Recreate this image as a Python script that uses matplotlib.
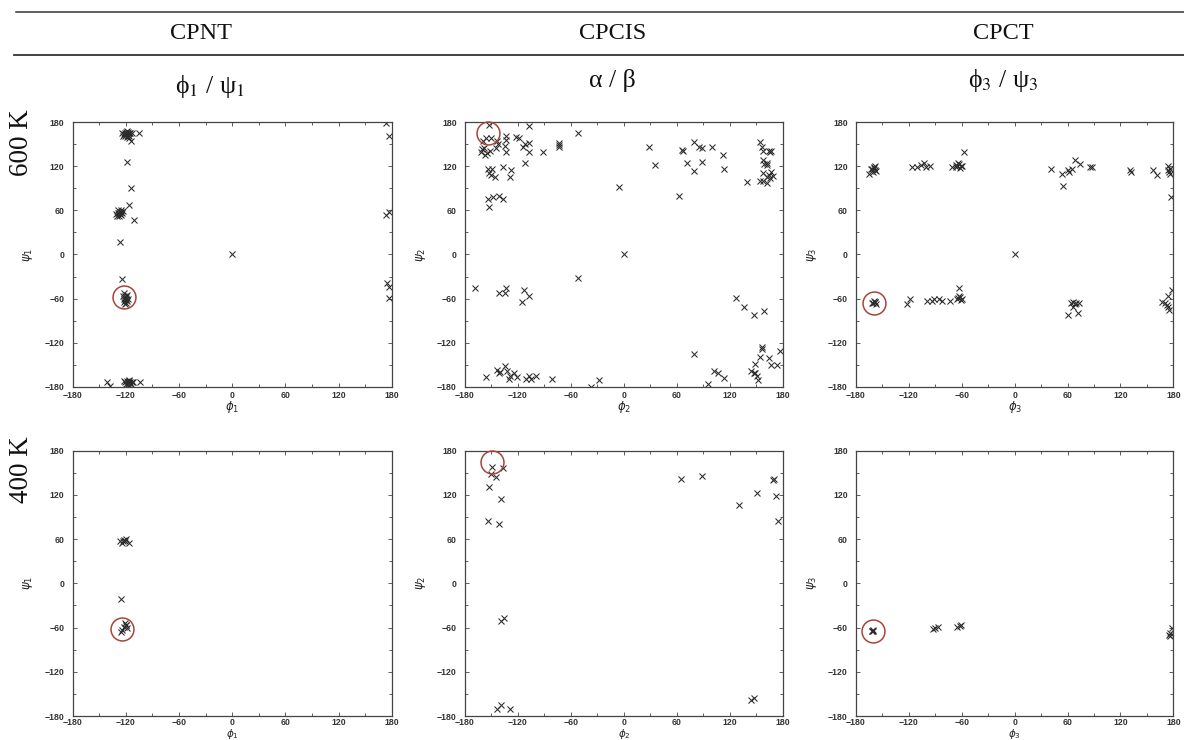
import matplotlib
matplotlib.use("Agg")
import matplotlib.pyplot as plt
from matplotlib.lines import Line2D

# ---------------- data ----------------
col_headers = ["CPNT", "CPCIS", "CPCT"]
sub_headers = ["\u03d5$_1$ / \u03c8$_1$", "\u03b1 / \u03b2", "\u03d5$_3$ / \u03c8$_3$"]
row_labels = ["600 K", "400 K"]
x_labels = [r"$\phi_1$", r"$\phi_2$", r"$\phi_3$"]
y_labels = [r"$\psi_1$", r"$\psi_2$", r"$\psi_3$"]
tick_values = [-180, -120, -60, 0, 60, 120, 180]

# 600 K, phi1/psi1
t1_x = [-124, -122, -120, -118, -117, -121, -119, -116, -123, -120, -118, -115, -113, -121, -119,
        -105, -114, -116, -119, -114, -116,
        -131, -129, -127, -125, -128, -126, -124, -130, -127, -125, -129, -123, -128,
        -111, -127, -124,
        -122, -121, -120, -122, -121, -119, -122, -120, -118, -123, -121, -120, -119,
        -121, -119, -117, -115, -118, -116, -120, -114, -117, -119, -113, -122, -112,
        -104, -141, -138, 0,
        174, 177, 174, 177, 175, 177, 177]
t1_y = [166, 164, 167, 163, 166, 161, 168, 162, 162, 164, 167, 165, 166, 166, 160,
        165, 155, 158, 126, 90, 68,
        55, 57, 55, 58, 53, 60, 56, 52, 58, 54, 60, 59, 56,
        47, 17, -34,
        -52, -56, -58, -60, -62, -63, -65, -66, -60, -57, -68, -61, -55,
        -174, -172, -175, -173, -177, -171, -176, -176, -172, -178, -174, -172, -173,
        -174, -173, -179, 0,
        179, 161, 54, 58, -39, -44, -59]

# 600 K, alpha/beta
t2_x = [-153, -160, -151, -156, -162, -157, -161, -158, -155, -152,
        -143, -145, -144, -133, -134, -135, -133, -122, -119, -114, -112,
        -108, -107, -107, -92, -73, -73, -74, -52, -112,
        -154, -149, -146, -153, -150, -137, -128, -129,
        -154, -148, -153, -141, -137,
        -169, -142, -135, -133, -113, -108, -115, -52, 0, -5,
        -156, -144, -142, -140, -135, -132, -129, -130, -124, -121, -111, -107, -105, -99, -81, -28, -37,
        29, 35, 63, 66, 67, 71, 79, 79, 85, 89, 88, 100, 112, 113, 140,
        154, 156, 158, 158, 162, 165, 166, 167, 159, 162, 158, 162, 165, 167, 169, 158, 162, 166, 154,
        127, 136, 147, 159, 79, 156, 157, 154, 149, 165, 167, 174, 177,
        144, 147, 149, 151, 152, 102, 107, 113, 95]
t2_y = [176, 154, 159, 159, 140, 136, 143, 145, 138, 141,
        150, 145, 154, 162, 156, 148, 140, 160, 158, 147, 150,
        175, 152, 140, 139, 152, 149, 147, 165, 125,
        116, 117, 106, 111, 108, 119, 115, 105,
        76, 78, 65, 80, 75,
        -46, -53, -52, -45, -49, -56, -65, -32, 0, 92,
        -167, -157, -162, -160, -152, -159, -165, -169, -162, -167, -169, -165, -169, -165, -170, -171, -180,
        146, 122, 79, 142, 141, 125, 153, 114, 146, 145, 126, 146, 136, 116, 99,
        153, 147, 141, 128, 125, 141, 140, 141, 123, 122, 111, 106, 108, 112, 107, 100, 98, 104, 100,
        -59, -71, -83, -77, -136, -126, -128, -139, -149, -141, -150, -150, -131,
        -158, -162, -162, -166, -171, -159, -162, -168, -176]

# 600 K, phi3/psi3
t3_x = [-162, -160, -158, -161, -159, -163, -160, -157, -165,
        -116, -111, -106, -103, -101, -96,
        -67, -65, -63, -61, -66, -62, -64, -60, -71, -57,
        41, 54, 55, 60, 62, 65, 69, 74, 86, 88, 131, 132, 157, 162, 174, 175, 176, 176, 174, 177,
        0,
        -161, -159, -157, -160, -158, -162, -122, -119,
        -100, -94, -92, -86, -82, -73,
        -65, -62, -60, -63, -61, -64, -63,
        61, 64, 66, 68, 70, 73, 72, 66,
        167, 171, 173, 174, 175, 174, 178]
t3_y = [117, 119, 115, 113, 120, 116, 118, 114, 110,
        119, 119, 122, 124, 119, 121,
        122, 120, 123, 121, 119, 118, 124, 120, 119, 139,
        116, 110, 93, 115, 113, 116, 129, 123, 119, 119, 115, 113, 115, 108, 121, 113, 117, 110, 115, 78,
        0,
        -66, -64, -67, -63, -65, -66, -68, -60,
        -63, -63, -61, -60, -63, -63,
        -60, -58, -61, -57, -62, -59, -45,
        -83, -66, -65, -67, -66, -66, -80, -71,
        -65, -66, -69, -71, -75, -56, -48]

# 400 K, phi1/psi1
b1_x = [-127, -122, -120, -117, -124, -121, -123, -126,
        -120, -122, -124, -119, -121, -125, -120]
b1_y = [57, 59, 60, 55, 55, 58, 58, -21,
        -56, -59, -63, -61, -54, -66, -57]

# 400 K, alpha/beta
b2_x = [-149, -137, -150, -145, -153, -139, -154, -142, -139, -136,
        -144, -139, -129, 65, 88, 130, 151, 170, 169, 172, 175, 144, 147]
b2_y = [158, 157, 148, 144, 131, 114, 84, 81, -51, -47,
        -170, -165, -170, 141, 145, 106, 122, 141, 140, 118, 85, -158, -156]

# 400 K, phi3/psi3
b3_x = [-162, -161, -161, -162, -93, -90, -87, -65, -62, -61, 175, 176, 179, 176]
b3_y = [-64, -65, -63, -64, -62, -61, -59, -59, -58, -57, -70, -67, -61, -72]

# highlighted (circled) conformations
top_circle_x = [-122, -154, -160]
top_circle_y = [-58, 166, -66]
bot_circle_x = [-124, -149, -161]
bot_circle_y = [-62, 164, -64]

# ---------------- figure ----------------
W, H = 1184, 740
fig = plt.figure(figsize=(W / 100, H / 100), dpi=100)

def fx(px):
    return px / W

def fy(py):
    return 1 - py / H

col_left = [72.7, 465, 856]
col_width = [319, 317.7, 317.3]
row_top = [122.3, 450.7]
row_height = [264.4, 265.3]

serif = ["Liberation Serif", "DejaVu Serif"]
sans = "Liberation Sans"
frame_col = "#444444"
mark_col = "#2a2a2a"
circ_col = "#a8443a"

# header rules and text
fig.add_artist(Line2D([fx(16), fx(1184)], [fy(11.7), fy(11.7)], transform=fig.transFigure,
                      color="#333333", lw=1.1))
fig.add_artist(Line2D([fx(14), fx(1184)], [fy(54.5), fy(54.5)], transform=fig.transFigure,
                      color="#333333", lw=1.3))
header_x = [201, 613, 1003]
for hx, t in zip(header_x, col_headers):
    fig.text(fx(hx), fy(33.5), t, family=serif, fontsize=17.5, ha="center", va="center", color="#111111")
sub_x = [210, 612, 1003]
sub_y = [86, 80, 80]
for sx, sy, t in zip(sub_x, sub_y, sub_headers):
    fig.text(fx(sx), fy(sy), t, family=serif, fontsize=18.5, ha="center", va="center",
             math_fontfamily="stix", color="#111111")

fig.text(fx(22), fy(143), row_labels[0], family=serif, fontsize=19.5, rotation=90,
         ha="center", va="center", color="#111111")
fig.text(fx(22), fy(470), row_labels[1], family=serif, fontsize=19.5, rotation=90,
         ha="center", va="center", color="#111111")

data = [[(t1_x, t1_y), (t2_x, t2_y), (t3_x, t3_y)],
        [(b1_x, b1_y), (b2_x, b2_y), (b3_x, b3_y)]]
circles = [(top_circle_x, top_circle_y), (bot_circle_x, bot_circle_y)]

for r in range(2):
    for c in range(3):
        left = fx(col_left[c])
        bottom = fy(row_top[r] + row_height[r])
        ax = fig.add_axes([left, bottom, col_width[c] / W, row_height[r] / H])
        xs, ys = data[r][c]
        ax.plot(xs, ys, linestyle="none", marker="x", ms=4.2, mew=0.75, color=mark_col)
        ax.plot([circles[r][0][c]], [circles[r][1][c]], linestyle="none", marker="o", ms=16.5,
                mfc="none", mec=circ_col, mew=1.1, clip_on=False, zorder=5)
        ax.set_xlim(-180, 180)
        ax.set_ylim(-180, 180)
        ax.set_xticks(tick_values)
        ax.set_yticks(tick_values)
        ax.set_xticks(range(-150, 180, 60), minor=True)
        ax.set_yticks(range(-150, 180, 60), minor=True)
        ax.tick_params(which="both", direction="in", top=True, right=True, width=0.6,
                       color=frame_col)
        ax.tick_params(which="major", length=3.0, labelsize=6.3, pad=3 if r == 0 else 1.5)
        ax.tick_params(which="minor", length=2.0)
        ax.tick_params(axis="y", which="major", pad=6)
        for lab in ax.get_xticklabels() + ax.get_yticklabels():
            lab.set_family(sans)
            lab.set_fontweight("bold")
            lab.set_color("#333333")
        for s in ax.spines.values():
            s.set_color(frame_col)
            s.set_linewidth(0.9)
        ax.set_xlabel(x_labels[c], fontsize=8.5 if r == 0 else 7.5, color="#222222")
        ax.set_ylabel(y_labels[c], fontsize=8.5, color="#222222")
        ax.xaxis.set_label_coords(0.5, -0.045 if r == 0 else -0.041)
        ax.yaxis.set_label_coords(-0.118, 0.5)

fig.savefig("out.png", dpi=100)
